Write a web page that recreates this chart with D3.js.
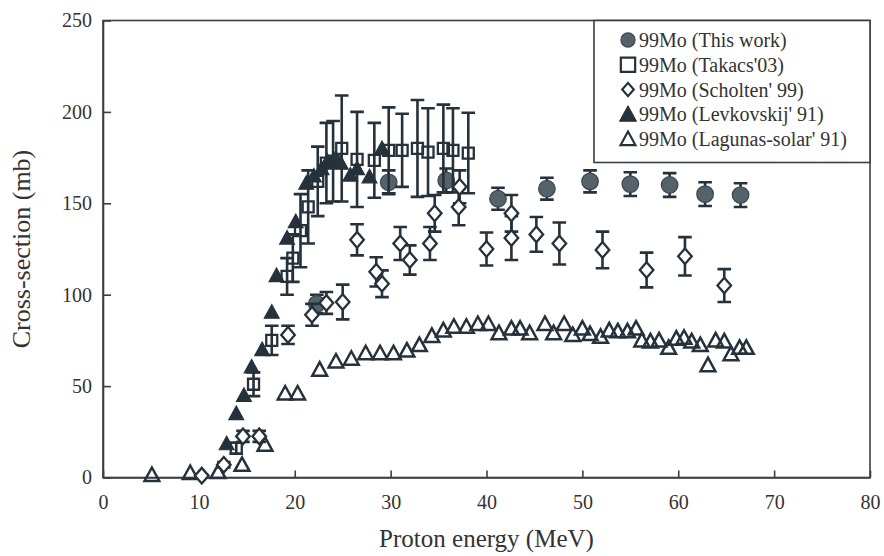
<!DOCTYPE html>
<html>
<head>
<meta charset="utf-8">
<script src="https://cdn.jsdelivr.net/npm/d3@7/dist/d3.min.js"></script>
<style>
  html, body { margin: 0; padding: 0; background: #fff; }
  svg { display: block; font-family: "Liberation Serif", "Times New Roman", serif; }
</style>
</head>
<body>
<svg id="chart" width="884" height="556"></svg>
<script>
// 99Mo production cross-section vs proton energy

const xTicks = [0, 10, 20, 30, 40, 50, 60, 70, 80];
const yTicks = [0, 50, 100, 150, 200, 250];

// This work
const thisWorkE   = [22.3, 29.8, 35.8, 41.2, 46.3, 50.8, 55.0, 59.1, 62.8, 66.5];
const thisWorkCS  = [95, 161.5, 162.5, 152.5, 158, 162, 160.5, 160, 155, 154.5];
const thisWorkErr = [5, 6.5, 6.5, 6, 6, 6, 6.5, 6.5, 6.5, 6.5];

// Takacs'03
const takacsE   = [13.9, 15.7, 17.6, 19.2, 19.8, 20.6, 21.4, 22.4, 23.3, 24.0, 24.9, 26.5, 28.3, 29.8, 31.2, 32.8, 33.9, 35.5, 36.5, 38.1];
const takacsCS  = [16, 51, 75, 110, 120, 135, 148, 162, 172, 173, 180, 174, 173.5, 179, 179, 180, 178, 180, 179, 177.5];
const takacsErr = [3, 6.5, 8, 10, 13, 20, 20, 19, 22, 22, 29, 26, 20.5, 23.5, 20, 26.5, 24, 24, 23, 22];

// Scholten'99
const scholtenE   = [10.3, 12.6, 14.6, 16.3, 19.3, 21.8, 23.3, 25.0, 26.5, 28.5, 29.1, 31.0, 32.0, 34.1, 34.6, 37.1, 37.2, 40.0, 42.6, 42.6, 45.2, 47.6, 52.1, 56.7, 60.7, 64.8];
const scholtenCS  = [1, 7, 22.5, 22.5, 78, 89, 95.5, 96, 130, 112.5, 106, 128, 119, 128, 144.5, 148, 159, 125, 144.5, 131, 133, 128, 124.5, 113.5, 121, 105];
const scholtenErr = [0.5, 1.5, 3, 3, 5, 6, 6, 9.5, 8.5, 8, 7.3, 9, 8, 9, 10, 10, 9, 9, 10, 12, 9.5, 11.5, 10, 9.5, 10.5, 9];

// Levkovskij'91
const levkovskijE  = [12.9, 13.9, 14.7, 15.5, 16.6, 17.6, 18.1, 19.2, 20.1, 21.2, 22.0, 22.8, 23.4, 24.1, 24.8, 25.8, 26.5, 27.8, 29.1];
const levkovskijCS = [18.5, 35, 45, 60.5, 70, 90.5, 110.5, 131, 140, 161, 165, 169, 173, 174, 172, 165.5, 169, 164.5, 180];

// Lagunas-solar'91
const lagunasE  = [5.1, 9.1, 12.0, 14.5, 16.9, 19.0, 20.3, 22.6, 24.3, 25.9, 27.4, 28.9, 30.3, 31.7, 33.0, 34.3, 35.5, 36.6, 37.9, 39.1, 40.2, 41.3, 42.6, 43.5, 44.5, 46.1, 47.0, 48.1, 49.0, 50.0, 50.8, 51.9, 52.8, 53.7, 54.7, 55.6, 56.2, 57.1, 58.0, 59.0, 59.8, 60.6, 61.4, 62.3, 63.1, 63.9, 64.8, 65.5, 66.4, 67.1];
const lagunasCS = [1.4, 2.5, 3, 7, 18, 46, 46, 59, 63.5, 65, 68, 68, 68, 69.5, 72.5, 77.5, 80.5, 82.5, 82.5, 84, 84, 79, 81.5, 81.5, 79, 84, 79, 84, 78, 81.5, 78.5, 77, 80.5, 80, 80, 81.5, 75, 74.5, 75, 71, 76, 76.5, 74.5, 72.5, 61.5, 75, 74.5, 67.5, 71, 71];

const legendLabels = [
  "99Mo (This work)",
  "99Mo (Takacs'03)",
  "99Mo (Scholten' 99)",
  "99Mo (Levkovskij' 91)",
  "99Mo (Lagunas-solar' 91)"
];

const INK = "#25313b";
const CIRCLE_FILL = "#54626a";

const svg = d3.select("#chart");
const plotL = 103, plotR = 870, plotT = 20.5, plotB = 477.5;

const x = d3.scaleLinear().domain([0, 80]).range([plotL, plotR]);
const y = d3.scaleLinear().domain([0, 250]).range([plotB, plotT]);

// marker shapes, centred at (cx, cy)
const shapes = {
  circle: (cx, cy) => { const r = 8.3; return `M${cx - r},${cy}a${r},${r} 0 1,0 ${2*r},0a${r},${r} 0 1,0 ${-2*r},0Z`; },
  square: (cx, cy) => { const h = 5.5; return `M${cx - h},${cy - h}H${cx + h}V${cy + h}H${cx - h}Z`; },
  diamond: (cx, cy) => { const w = 6.8, h = 7.8; return `M${cx},${cy - h}L${cx + w},${cy}L${cx},${cy + h}L${cx - w},${cy}Z`; },
  triangle: (cx, cy) => { const w = 7.4, h = 13.5; return `M${cx},${cy - h*0.55}L${cx + w},${cy + h*0.45}L${cx - w},${cy + h*0.45}Z`; }
};

const zip = (a, b, c) => a.map((v, i) => ({ e: v, cs: b[i], err: c ? c[i] : 0 }));

const series = [
  { key: "lagunas",    data: zip(lagunasE, lagunasCS),                 shape: "triangle", fill: "none", stroke: INK, sw: 2.5, bars: false },
  { key: "thiswork",   data: zip(thisWorkE, thisWorkCS, thisWorkErr),  shape: "circle",   fill: CIRCLE_FILL, stroke: "#3b4750", sw: 1.2, bars: true },
  { key: "takacs",     data: zip(takacsE, takacsCS, takacsErr),        shape: "square",   fill: "none", stroke: INK, sw: 2.3, bars: true },
  { key: "scholten",   data: zip(scholtenE, scholtenCS, scholtenErr),  shape: "diamond",  fill: "#fff", stroke: INK, sw: 2.3, bars: true },
  { key: "levkovskij", data: zip(levkovskijE, levkovskijCS),           shape: "triangle", fill: INK, stroke: INK, sw: 1.2, bars: false }
];

// plot frame
svg.append("rect")
  .attr("x", plotL).attr("y", plotT)
  .attr("width", plotR - plotL).attr("height", plotB - plotT)
  .attr("fill", "none").attr("stroke", "#3a3f44").attr("stroke-width", 1.6);

// axes with inward ticks
const xAxis = svg.append("g")
  .attr("transform", `translate(0,${plotB})`)
  .call(d3.axisBottom(x).tickValues(xTicks).tickSizeInner(-7).tickSizeOuter(0).tickPadding(17));
const yAxis = svg.append("g")
  .attr("transform", `translate(${plotL},0)`)
  .call(d3.axisLeft(y).tickValues(yTicks).tickSizeInner(-8).tickSizeOuter(0).tickPadding(11));

[xAxis, yAxis].forEach(g => {
  g.select(".domain").attr("stroke", "#3a3f44").attr("stroke-width", 1.6);
  g.selectAll(".tick line").attr("stroke", "#3a3f44").attr("stroke-width", 1.6);
  g.selectAll(".tick text")
    .attr("font-family", "'Liberation Serif', 'Times New Roman', serif")
    .attr("font-size", 20).attr("fill", "#333");
});

// axis titles
svg.append("text")
  .attr("x", (plotL + plotR) / 2).attr("y", 547)
  .attr("text-anchor", "middle")
  .attr("font-size", 25).attr("fill", "#333")
  .text("Proton energy (MeV)");
svg.append("text")
  .attr("transform", `translate(30,${(plotT + plotB) / 2}) rotate(-90)`)
  .attr("text-anchor", "middle")
  .attr("font-size", 26).attr("fill", "#333")
  .text("Cross-section (mb)");

// error bars and markers
const capW = 6.8;
series.forEach(s => {
  const g = svg.append("g").attr("class", s.key);
  if (s.bars) {
    const b = g.append("g").attr("stroke", INK).attr("stroke-width", 2.6).attr("fill", "none");
    b.selectAll("path").data(s.data).join("path")
      .attr("d", d => {
        const cx = x(d.e), y1 = y(d.cs + d.err), y2 = y(d.cs - d.err);
        return `M${cx},${y1}V${y2}M${cx - capW},${y1}H${cx + capW}M${cx - capW},${y2}H${cx + capW}`;
      });
  }
  g.selectAll("path.mk").data(s.data).join("path")
    .attr("class", "mk")
    .attr("d", d => shapes[s.shape](x(d.e), y(d.cs)))
    .attr("fill", s.fill).attr("stroke", s.stroke).attr("stroke-width", s.sw)
    .attr("stroke-linejoin", "miter");
});

// legend
const lg = svg.append("g");
lg.append("rect")
  .attr("x", 594).attr("y", plotT).attr("width", plotR - 594).attr("height", 142)
  .attr("fill", "#fff").attr("stroke", "#3a3f44").attr("stroke-width", 1.6);
const legendStyles = [
  { shape: "circle", fill: CIRCLE_FILL, stroke: "#3b4750", sw: 1.2, scale: 0.85 },
  { shape: "square", fill: "none", stroke: INK, sw: 2.2, scale: 1.3 },
  { shape: "diamond", fill: "none", stroke: INK, sw: 2.2, scale: 0.85 },
  { shape: "triangle", fill: INK, stroke: INK, sw: 1, scale: 1.15 },
  { shape: "triangle", fill: "none", stroke: INK, sw: 2.2, scale: 1.0 }
];
const legendY = d3.scaleLinear().domain([0, 4]).range([40, 139]);
legendLabels.forEach((lab, i) => {
  const st = legendStyles[i];
  const cy = legendY(i);
  lg.append("path")
    .attr("d", shapes[st.shape](0, 0))
    .attr("transform", `translate(628,${cy}) scale(${st.scale})`)
    .attr("fill", st.fill).attr("stroke", st.stroke).attr("stroke-width", st.sw / st.scale);
  lg.append("text")
    .attr("x", 639).attr("y", cy).attr("dy", "0.35em")
    .attr("font-size", 20).attr("fill", "#333")
    .text(lab);
});
</script>
</body>
</html>
